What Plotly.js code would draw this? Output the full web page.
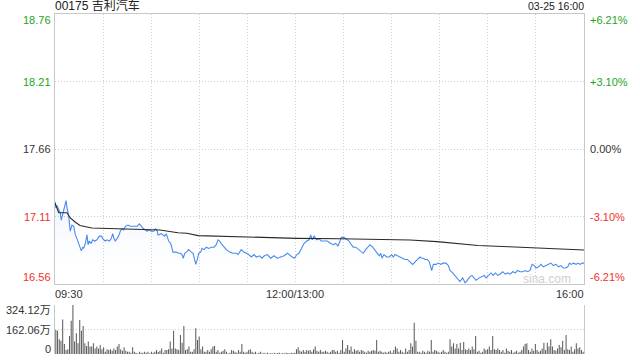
<!DOCTYPE html>
<html>
<head>
<meta charset="utf-8">
<script src="https://cdn.plot.ly/plotly-3.0.1.min.js"></script>
<style>
html,body{margin:0;padding:0;background:#fff;}
#chart{width:640px;height:360px;}
</style>
</head>
<body>
<div id="chart"></div>
<script>
// ---- data ----
const stockTitle = "00175 吉利汽车";
const stampText = "03-25 16:00";
const prevClose = 17.66;

// trading minutes since 09:30 (lunch break removed), 0..330
const priceMinutes = [
  0, 0.6, 1.2, 2.3, 3.3, 3.9, 5, 6, 6.9, 7.5,
  8.5, 9.5, 10.6, 11.7, 12.7, 13.7, 14.8, 15.8, 16.4, 17.3,
  17.9, 18.9, 20, 20.6, 21.4, 22.6, 23.5, 24.8, 26.2, 27.6,
  28.9, 30.4, 31.4, 32.4, 33.9, 35.1, 36, 36.8, 37.6, 38.7,
  39.7, 40.7, 41.8, 42.9, 43.9, 45.5, 47, 49.1, 51.2, 52.6,
  53.8, 55.3, 56.4, 57.4, 58.4, 60.1, 61.6, 62.6, 63.6, 64.3,
  66.3, 68.4, 69.4, 70.9, 72.2, 73.6, 75.7, 77.2, 78.4, 79.2,
  80, 80.9, 81.9, 83.4, 85, 86.1, 87.1, 87.8, 88.8, 89.6,
  90.9, 91.7, 93, 94.4, 95.9, 97.5, 99.2, 100.6, 101.7, 102.7,
  104.2, 105.4, 106.9, 109, 111, 113.1, 114.2, 115.2, 116.2, 117.9,
  119.3, 120.8, 122.5, 124.1, 125.6, 127.7, 129.1, 130.6, 132.4, 134.6,
  136.6, 138.7, 140.8, 142.9, 145, 146.6, 148, 149.5, 150.8, 152.2,
  153.7, 155.3, 157, 158.5, 159.5, 160.5, 161.6, 163.3, 164.7, 166.1,
  167.8, 169.9, 172, 173.6, 175.1, 176.5, 177.8, 178.6, 180.3, 182,
  183.4, 184.8, 186.1, 187.6, 189.6, 191.1, 192.3, 193.8, 195.3, 196.5,
  198.2, 199.6, 201.1, 202.3, 203.2, 204, 205.2, 206.9, 208.5, 210,
  211, 212.1, 213.5, 214.8, 216.3, 218.3, 219.8, 221.5, 223.1, 224.6,
  226, 227.7, 228.7, 229.8, 230.8, 232.3, 233.5, 235, 236, 237.7,
  239.1, 240.6, 242.2, 243.9, 245.4, 246.4, 248.1, 249.5, 251, 252.6,
  254.3, 255.8, 257.2, 258.9, 260.1, 261.4, 262.6, 264.7, 266.4, 267.8,
  268.9, 270.6, 272, 273.4, 274.7, 276.2, 277.6, 279.3, 280.9, 282.4,
  283.8, 285.5, 287.2, 288.6, 290.1, 291.8, 293.4, 294.9, 296.3, 297.6,
  299, 300.1, 301.7, 303.2, 304.6, 306.3, 308, 309.4, 310.9, 312.5,
  314.2, 315.7, 317.1, 318.4, 319.9, 320.9, 322, 323.4, 325.1, 326.1,
  327.6, 328.8, 330
];
const prices = [
  17.23, 17.18, 17.20, 17.16, 17.14, 17.08, 17.15, 17.20, 17.24, 17.18,
  17.12, 16.99, 17.04, 17.03, 16.96, 16.93, 16.89, 16.85, 16.83, 16.86,
  16.85, 16.89, 16.96, 16.88, 16.91, 16.89, 16.92, 16.91, 16.92, 16.95,
  16.95, 16.92, 16.91, 16.92, 16.91, 16.93, 16.97, 16.93, 16.91, 16.93,
  16.95, 16.99, 17.01, 17.00, 17.03, 17.04, 17.03, 17.03, 17.03, 17.05,
  17.03, 17.01, 17.00, 16.99, 17.00, 16.99, 16.99, 17.01, 17.00, 16.96,
  16.97, 16.95, 16.97, 16.91, 16.89, 16.82, 16.82, 16.81, 16.81, 16.80,
  16.77, 16.81, 16.82, 16.84, 16.82, 16.81, 16.76, 16.72, 16.76, 16.81,
  16.82, 16.85, 16.84, 16.86, 16.85, 16.86, 16.86, 16.88, 16.92, 16.91,
  16.88, 16.86, 16.84, 16.82, 16.81, 16.81, 16.80, 16.82, 16.84, 16.82,
  16.81, 16.80, 16.78, 16.80, 16.78, 16.79, 16.77, 16.79, 16.80, 16.77,
  16.79, 16.77, 16.78, 16.79, 16.81, 16.79, 16.78, 16.77, 16.80, 16.81,
  16.85, 16.89, 16.91, 16.92, 16.96, 16.92, 16.95, 16.92, 16.93, 16.91,
  16.91, 16.91, 16.89, 16.88, 16.89, 16.87, 16.91, 16.94, 16.94, 16.92,
  16.91, 16.88, 16.86, 16.86, 16.84, 16.82, 16.81, 16.84, 16.86, 16.88,
  16.86, 16.84, 16.81, 16.79, 16.81, 16.77, 16.80, 16.78, 16.78, 16.80,
  16.78, 16.80, 16.79, 16.78, 16.77, 16.76, 16.76, 16.74, 16.72, 16.74,
  16.76, 16.78, 16.77, 16.77, 16.76, 16.76, 16.74, 16.67, 16.72, 16.72,
  16.73, 16.72, 16.73, 16.73, 16.71, 16.67, 16.65, 16.63, 16.61, 16.58,
  16.61, 16.57, 16.59, 16.62, 16.63, 16.61, 16.59, 16.61, 16.62, 16.63,
  16.61, 16.63, 16.65, 16.63, 16.65, 16.63, 16.64, 16.66, 16.64, 16.65,
  16.64, 16.66, 16.65, 16.67, 16.66, 16.66, 16.67, 16.66, 16.67, 16.72,
  16.71, 16.69, 16.70, 16.72, 16.70, 16.71, 16.72, 16.73, 16.71, 16.72,
  16.70, 16.71, 16.69, 16.69, 16.70, 16.73, 16.72, 16.73, 16.72, 16.73,
  16.72, 16.73, 16.73
];

const avgMinutes = [0, 2.3, 7.5, 9.4, 12.5, 15.6, 20, 23, 28, 39.7, 48.7, 65.5, 76.7, 82.3, 89.2, 106, 131, 151, 177.8, 197.8, 209, 221.5, 238.3, 263.9, 283.2, 304.4, 330];
const avgPrices  = [17.22, 17.14, 17.14, 17.10, 17.065, 17.037, 17.025, 17.016, 17.014, 17.008, 17.006, 17.00, 16.978, 16.973, 16.954, 16.947, 16.937, 16.932, 16.929, 16.927, 16.923, 16.919, 16.905, 16.874, 16.864, 16.851, 16.837];

// volume per bar, in 万 shares
const volumes = [
  159,154,97,88,229,66,26,31,119,220,
  324,82,137,71,225,154,185,71,53,82,
  49,49,71,37,49,37,60,31,44,15,
  31,26,31,22,37,26,49,66,31,22,
  44,22,15,15,9,44,15,9,4,15,
  9,9,15,9,15,4,15,9,15,26,
  13,22,37,9,26,26,31,82,37,154,
  37,31,26,126,75,185,26,31,49,15,
  15,31,170,93,115,31,49,15,15,26,
  15,31,49,53,15,26,9,15,22,31,
  15,4,9,26,22,15,9,26,15,66,
  15,9,15,26,31,15,9,15,4,9,
  15,4,9,
  4,9,4,6,4,9,4,6,9,4,6,4,9,6,4,9,6,9,
  31,44,22,15,26,15,26,22,26,15,
  31,49,22,15,26,15,15,22,15,9,
  15,26,26,15,22,9,26,93,15,37,
  60,26,49,15,31,22,26,15,26,22,
  15,9,22,15,22,26,22,93,15,22,
  15,9,15,9,15,22,9,26,49,37,
  15,26,15,9,37,15,26,71,49,207,
  88,15,15,9,22,15,9,22,15,93,
  15,26,22,15,9,15,26,15,9,15,
  97,49,71,37,66,37,75,26,79,31,
  26,37,26,49,31,119,15,22,9,15,
  37,26,31,49,26,119,31,26,37,26,
  15,26,9,37,22,15,26,9,15,22,
  9,15,26,49,66,71,26,15,37,22,
  66,26,15,22,37,75,26,75,49,97,
  49,26,22,37,60,44,88,26,126,31,
  26,49,15,31,71,37,44,26,15
];

const priceTicks = [18.76, 18.21, 17.66, 17.11, 16.56];
const pctTicks = ["+6.21%", "+3.10%", "0.00%", "-3.10%", "-6.21%"];
const volTicks = [324.12, 162.06, 0];
const volTickText = ["324.12万", "162.06万", "0"];
const timeTicks = [0, 150, 330];
const timeTickText = ["09:30", "12:00/13:00", "16:00"];
const timeGrid = [0, 30, 60, 90, 120, 150, 180, 210, 240, 270, 300, 330];

// ---- styling ----
const GREEN = "#1ea51e", RED = "#f2302a", DARK = "#333333";
const FONT = "Liberation Sans, Arial, Noto Sans CJK SC, sans-serif";
const GRID = "#cfcfcf", BORDER = "#c8c8c8", DASH = "1px,2px";

const volIdx = volumes.map((v, i) => i);

const traces = [
  {
    x: priceMinutes, y: prices, type: "scatter", mode: "lines",
    line: {color: "#4a8af0", width: 1.1},
    fill: "tozeroy",
    fillcolor: "rgba(74,138,240,0.06)",
    fillgradient: {type: "vertical", start: 16.56, stop: 17.25,
      colorscale: [[0, "rgba(255,255,255,0)"], [1, "rgba(74,138,240,0.10)"]]},
    hoverinfo: "skip", xaxis: "x", yaxis: "y"
  },
  {
    x: avgMinutes, y: avgPrices, type: "scatter", mode: "lines",
    line: {color: "#2a2a2a", width: 1.1},
    hoverinfo: "skip", xaxis: "x", yaxis: "y"
  },
  {
    x: volIdx, y: volumes, type: "bar",
    marker: {color: "#5a5a5a", line: {width: 0}},
    hoverinfo: "skip", xaxis: "x2", yaxis: "y2"
  }
];

const colorFor = v => v > prevClose + 1e-9 ? GREEN : (v < prevClose - 1e-9 ? RED : DARK);
const ann = [];
const shiftFor = (i, n) => (i === 0 ? -6 : (i === n - 1 ? 7 : 0));
priceTicks.forEach((v, i) => {
  ann.push({xref: "paper", yref: "y", x: 0, y: v, xanchor: "right", yanchor: "middle",
    xshift: -2, yshift: shiftFor(i, priceTicks.length), showarrow: false,
    text: v.toFixed(2), font: {family: FONT, size: 11, color: colorFor(v)}});
  ann.push({xref: "paper", yref: "y", x: 1, y: v, xanchor: "left", yanchor: "middle",
    xshift: 4, yshift: shiftFor(i, priceTicks.length), showarrow: false,
    text: pctTicks[i], font: {family: FONT, size: 11, color: colorFor(v)}});
});
volTicks.forEach((v, i) => {
  ann.push({xref: "paper", yref: "y2", x: 0, y: v, xanchor: "right", yanchor: "middle",
    xshift: -2, yshift: i === 0 ? -5 : (i === volTicks.length - 1 ? 5 : 0), showarrow: false,
    text: volTickText[i], font: {family: FONT, size: 11, color: DARK}});
});
timeTicks.forEach((t, i) => {
  ann.push({xref: "x", yref: "y domain", x: t, y: 0,
    xanchor: i === 0 ? "left" : (i === timeTicks.length - 1 ? "right" : "center"),
    yanchor: "top", yshift: -2, showarrow: false,
    xshift: i === 0 ? -2 : (i === timeTicks.length - 1 ? 2 : 0),
    text: timeTickText[i], font: {family: FONT, size: 11, color: DARK}});
});
ann.push({xref: "paper", yref: "paper", x: 0, y: 1, xanchor: "left", yanchor: "bottom",
  xshift: -2, yshift: -1, showarrow: false, text: stockTitle,
  font: {family: FONT, size: 12, color: "#222"}});
ann.push({xref: "paper", yref: "paper", x: 1, y: 1, xanchor: "right", yanchor: "bottom",
  xshift: 2, yshift: 0, showarrow: false, text: stampText,
  font: {family: FONT, size: 10.5, color: "#222"}});
ann.push({xref: "paper", yref: "y domain", x: 0.979, y: 0.0185, xanchor: "right", yanchor: "middle",
  showarrow: false, text: "sina.com", font: {family: FONT, size: 12, color: "#cfcfcf"}});

const layout = {
  width: 640, height: 360,
  margin: {l: 55, r: 56, t: 14, b: 6, pad: 0},
  paper_bgcolor: "#fff", plot_bgcolor: "#fff",
  showlegend: false, bargap: 0.4,
  xaxis: {domain: [0, 1], range: [0, 330], tickmode: "array", tickvals: timeGrid,
    showticklabels: false, ticks: "", showgrid: true, gridcolor: GRID, griddash: DASH, gridwidth: 1,
    showline: true, mirror: true, linecolor: BORDER, linewidth: 1, zeroline: false, fixedrange: true},
  yaxis: {domain: [0.2059, 1], range: [16.56, 18.76], tickmode: "array", tickvals: priceTicks,
    showticklabels: false, ticks: "", showgrid: true, gridcolor: GRID, griddash: DASH, gridwidth: 1,
    showline: true, mirror: true, linecolor: BORDER, linewidth: 1, zeroline: false, fixedrange: true},
  xaxis2: {anchor: "y2", domain: [0, 1], range: [-0.5, volumes.length - 0.5],
    showticklabels: false, ticks: "", showgrid: false, showline: false, zeroline: false, fixedrange: true},
  yaxis2: {anchor: "x2", domain: [0, 0.1441], range: [0, 324.2], tickmode: "array", tickvals: [volTicks[0], volTicks[1]],
    showticklabels: false, ticks: "", showgrid: true, gridcolor: GRID, griddash: DASH, gridwidth: 1,
    showline: true, mirror: true, linecolor: BORDER, linewidth: 1, zeroline: false, fixedrange: true},
  annotations: ann
};

Plotly.newPlot("chart", traces, layout, {displayModeBar: false, staticPlot: true});
</script>
</body>
</html>
